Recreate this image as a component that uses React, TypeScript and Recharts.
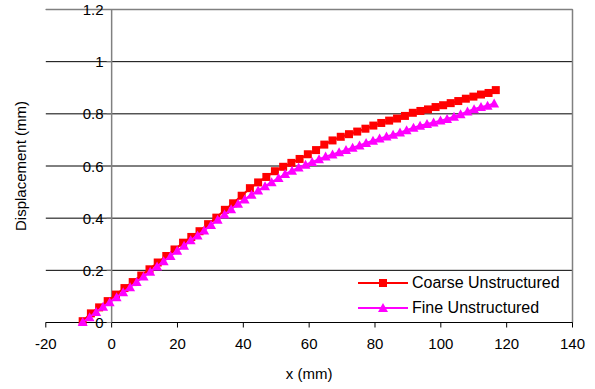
import React from 'react';
import { ScatterChart, Scatter, XAxis, YAxis, CartesianGrid, ReferenceLine } from 'recharts';

// mesh node positions (mm) and displacements (mm)
const coarseX = [
  -8.8, -6.3, -3.8, -1.2, 1.3, 3.9, 6.4, 9.0, 11.5, 14.0, 16.6, 19.1, 21.7, 24.2, 26.7, 29.3, 31.8,
  34.4, 36.9, 39.5, 42.0, 44.5, 47.0, 49.6, 52.1, 54.6, 57.1, 59.6, 62.1, 64.6, 67.1, 69.6, 72.1,
  74.6, 77.1, 79.5, 81.9, 84.3, 86.7, 89.1, 91.5, 93.8, 96.1, 98.4, 100.7, 103.0, 105.3, 107.6,
  109.9, 112.2, 114.5, 116.7
];
const coarseY = [
  0.005, 0.035, 0.058, 0.082, 0.107, 0.132, 0.155, 0.18, 0.204, 0.23, 0.255, 0.28, 0.306, 0.328,
  0.35, 0.377, 0.402, 0.432, 0.457, 0.486, 0.515, 0.537, 0.558, 0.58, 0.597, 0.612, 0.627, 0.645,
  0.661, 0.682, 0.698, 0.712, 0.722, 0.732, 0.743, 0.755, 0.765, 0.774, 0.782, 0.792, 0.804, 0.811,
  0.817, 0.826, 0.833, 0.841, 0.849, 0.858, 0.866, 0.874, 0.88, 0.891
];
const fineX = [
  -8.8, -6.7, -4.7, -2.6, -0.6, 1.5, 3.5, 5.6, 7.6, 9.7, 11.7, 13.8, 15.8, 17.9, 19.9, 22.0, 24.0,
  26.1, 28.1, 30.2, 32.2, 34.3, 36.3, 38.4, 40.4, 42.5, 44.5, 46.6, 48.6, 50.7, 52.7, 54.8, 56.8,
  58.9, 60.9, 63.0, 65.0, 67.1, 69.1, 71.2, 73.2, 75.3, 77.3, 79.4, 81.4, 83.5, 85.5, 87.6, 89.6,
  91.7, 93.7, 95.8, 97.8, 99.9, 101.9, 104.0, 106.0, 108.1, 110.1, 112.2, 114.2, 116.2
];
const fineY = [
  0.002, 0.02, 0.04, 0.06, 0.078, 0.097, 0.116, 0.135, 0.155, 0.176, 0.195, 0.215, 0.235, 0.255,
  0.275, 0.294, 0.315, 0.334, 0.353, 0.374, 0.394, 0.414, 0.434, 0.455, 0.472, 0.49, 0.506, 0.522,
  0.538, 0.554, 0.569, 0.582, 0.594, 0.605, 0.615, 0.626, 0.636, 0.644, 0.653, 0.661, 0.67, 0.679,
  0.688, 0.697, 0.705, 0.713, 0.72, 0.728, 0.737, 0.747, 0.754, 0.761, 0.767, 0.774, 0.78, 0.789,
  0.798, 0.809, 0.818, 0.826, 0.831, 0.84
];
const xTicks = [-20, 0, 20, 40, 60, 80, 100, 120, 140];
const yTicks = [0, 0.2, 0.4, 0.6, 0.8, 1, 1.2];

const coarseData = coarseX.map((x, i) => ({ x, y: coarseY[i] }));
const fineData = fineX.map((x, i) => ({ x, y: fineY[i] }));

const FONT = '"Liberation Sans", Arial, sans-serif';
const W = 595;
const H = 389;
const PLOT_LEFT = 45.8;
const PLOT_RIGHT = 572.5;
const PLOT_TOP = 9.5;
const PLOT_BOTTOM = 322.5;
// the value axis crosses the category axis at x = 0
const X0 = PLOT_LEFT + ((0 - xTicks[0]) / (xTicks[xTicks.length - 1] - xTicks[0])) * (PLOT_RIGHT - PLOT_LEFT);

const RED = '#FF0000';
const MAGENTA = '#FF00FF';

const Square = ({ cx, cy }: any) => <rect x={cx - 4} y={cy - 4} width={8} height={8} fill={RED} />;
const Triangle = ({ cx, cy }: any) => (
  <polygon points={`${cx},${cy - 5} ${cx + 5},${cy + 4} ${cx - 5},${cy + 4}`} fill={MAGENTA} />
);

const YTick = ({ y, payload }: any) => (
  <g>
    <line x1={X0 - 5} x2={X0} y1={y} y2={y} stroke="#808080" />
    <text x={X0 - 8} y={y} textAnchor="end" dominantBaseline="central" fontSize={15} fontFamily={FONT} fill="#000">
      {payload.value}
    </text>
  </g>
);

const YTitle = ({ viewBox }: any) => {
  const cy = viewBox.y + viewBox.height / 2;
  return (
    <text x={20} y={cy} transform={`rotate(-90, 20, ${cy})`} textAnchor="middle" dominantBaseline="central" fontSize={15} fontFamily={FONT} fill="#000">
      Displacement (mm)
    </text>
  );
};

const legendItems = [
  { name: 'Coarse Unstructured', color: RED, marker: 'square' },
  { name: 'Fine Unstructured', color: MAGENTA, marker: 'triangle' }
];

function LegendBox() {
  return (
    <div style={{ position: 'absolute', left: 358, top: 270, fontFamily: FONT, fontSize: 16, color: '#000' }}>
      {legendItems.map((item) => (
        <div key={item.name} style={{ display: 'flex', alignItems: 'center', height: 25 }}>
          <svg width={54} height={14} style={{ display: 'block' }}>
            <line x1={0} x2={50} y1={7} y2={7} stroke={item.color} strokeWidth={2} />
            {item.marker === 'square' ? (
              <rect x={21} y={3} width={8} height={8} fill={item.color} />
            ) : (
              <polygon points="25,2 30,11 20,11" fill={item.color} />
            )}
          </svg>
          <span style={{ whiteSpace: 'nowrap' }}>{item.name}</span>
        </div>
      ))}
    </div>
  );
}

export default function App() {
  return (
    <div style={{ position: 'absolute', left: 0, top: 0, width: W, height: H, background: '#fff' }}>
      <ScatterChart width={W} height={H} margin={{ top: PLOT_TOP, right: W - PLOT_RIGHT, bottom: 0, left: 0 }}>
        <CartesianGrid vertical={false} stroke="#000" strokeWidth={1} />
        <XAxis
          type="number"
          dataKey="x"
          domain={[-20, 140]}
          ticks={xTicks}
          height={H - PLOT_BOTTOM}
          stroke="#000"
          tickSize={5}
          tickMargin={11}
          tick={{ fill: '#000', fontSize: 15, fontFamily: FONT }}
          label={{ value: 'x (mm)', position: 'insideBottom', offset: 10, fill: '#000', fontSize: 15, fontFamily: FONT }}
        />
        <YAxis
          type="number"
          dataKey="y"
          domain={[0, 1.2]}
          ticks={yTicks}
          width={PLOT_LEFT}
          axisLine={false}
          tickLine={false}
          tick={<YTick />}
          label={<YTitle />}
        />
        <ReferenceLine y={1.2} stroke="#808080" strokeWidth={1.5} />
        <ReferenceLine x={140} stroke="#808080" strokeWidth={1.5} />
        <ReferenceLine x={0} stroke="#808080" strokeWidth={1.5} />
        <Scatter data={coarseData} line={{ stroke: RED, strokeWidth: 2 }} shape={<Square />} isAnimationActive={false} />
        <Scatter data={fineData} line={{ stroke: MAGENTA, strokeWidth: 2 }} shape={<Triangle />} isAnimationActive={false} />
      </ScatterChart>
      <LegendBox />
    </div>
  );
}
